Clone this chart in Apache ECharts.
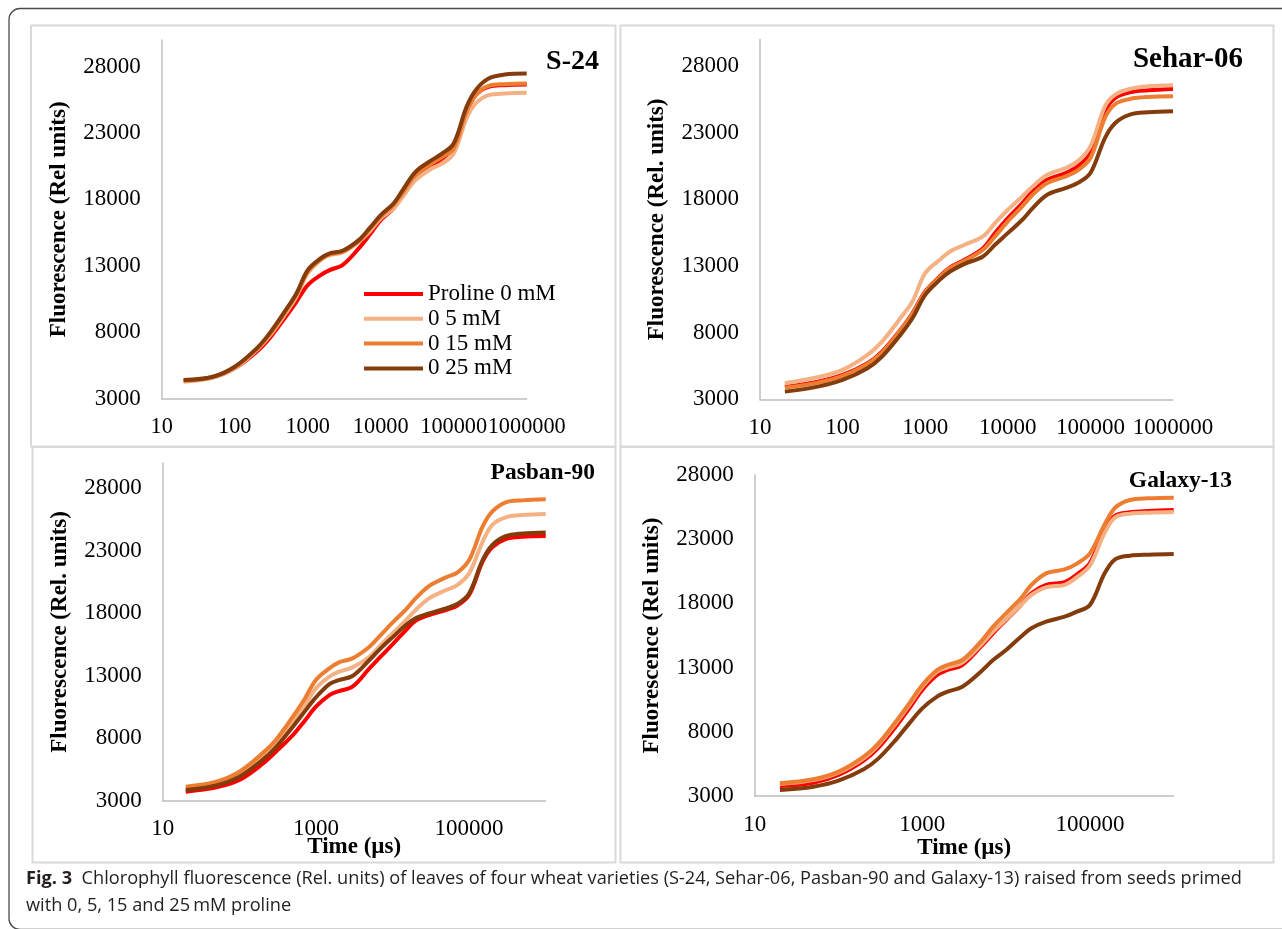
<!DOCTYPE html>
<html><head><meta charset="utf-8">
<script src="https://cdn.jsdelivr.net/npm/echarts@6/dist/echarts.min.js"></script>
<style>html,body{margin:0;padding:0;background:#fff}#c{width:1282px;height:929px}</style>
</head><body><div id="c"></div>
<script>
// ---- data ----
const times = [20,50,100,200,300,500,700,1000,1500,2000,3000,5000,7000,10000,15000,20000,30000,50000,70000,100000,150000,200000,300000,500000,1000000];
const seriesNames = ['Proline 0 mM','0 5 mM','0 15 mM','0 25 mM'];
const panelTitles = ['S-24','Sehar-06','Pasban-90','Galaxy-13'];
const yAxisTitles = ['Fluorescence (Rel units)','Fluorescence (Rel. units)','Fluorescence (Rel. units)','Fluorescence (Rel units)'];
const xAxisTitle = 'Time (µs)';
const yTickMin = 3000, yTickStep = 5000;
const yAxisMax = [30000, 30000, 30000, 28000];
const xTicksTop = [10,100,1000,10000,100000,1000000];
const xTicksBottom = [10,1000,100000];
const captionBold = 'Fig. 3';
const captionLine1 = 'Chlorophyll fluorescence (Rel. units) of leaves of four wheat varieties (S-24, Sehar-06, Pasban-90 and Galaxy-13) raised from seeds primed';
const captionLine2 = 'with 0, 5, 15 and 25\u2009mM proline';

const s24_0  = [4354,4605,5282,6536,7540,9170,10298,11552,12305,12681,13057,14311,15314,16443,17321,18324,19703,20581,21083,21960,24594,25848,26475,26601,26651];
const s24_5  = [4279,4580,5282,6662,7715,9420,10674,12430,13433,13809,14010,14813,15565,16568,17321,18198,19452,20330,20706,21460,24092,25221,25848,25973,26023];
const s24_15 = [4354,4630,5358,6737,7840,9596,10850,12555,13483,13860,14060,14863,15741,16694,17572,18499,19829,20707,21208,21835,24594,25848,26550,26676,26726];
const s24_25 = [4404,4655,5408,6787,7916,9671,10925,12681,13559,13935,14136,14938,15816,16819,17697,18700,20080,20958,21459,22211,24970,26224,27102,27403,27478];

const sehar_0  = [3952,4327,4828,5704,6581,8208,9460,11088,12215,12891,13467,14343,15470,16597,17724,18600,19476,19977,20478,21480,24610,25611,26037,26187,26287];
const sehar_5  = [4202,4653,5204,6330,7332,9085,10337,12465,13467,14093,14594,15220,16221,17223,18224,18976,19852,20353,20854,21980,24985,25862,26287,26488,26563];
const sehar_15 = [3876,4252,4753,5654,6506,8158,9410,11038,12165,12841,13392,14218,15220,16346,17473,18350,19226,19727,20177,21104,24109,25160,25536,25686,25736];
const sehar_25 = [3576,3952,4452,5329,6205,7833,9085,10838,11964,12590,13166,13717,14593,15470,16472,17348,18350,18851,19226,19977,22607,23733,24359,24534,24609];

const pasban_0  = [3720,4066,4652,5932,6918,8250,9316,10515,11448,11768,12114,13580,14513,15499,16645,17391,17844,18244,18590,19443,22108,23254,23920,24107,24160];
const pasban_5  = [4066,4439,5185,6571,7584,9396,10515,11981,12914,13314,13660,14513,15446,16378,17444,18244,19177,19843,20243,21175,23700,25040,25653,25839,25919];
const pasban_15 = [4119,4519,5319,6784,7850,9716,11048,12647,13580,14060,14380,15312,16245,17231,18297,19177,20163,20856,21229,22241,24906,26106,26852,27012,27092];
const pasban_25 = [3853,4226,4919,6251,7264,8916,10062,11262,12328,12647,12967,14246,15179,16059,17045,17578,17978,18377,18724,19576,22241,23441,24160,24373,24453];

const galaxy_0  = [3779,4038,4635,5752,6764,8529,9827,11255,12423,12813,13202,14630,15668,16707,17875,18784,19433,19650,20250,21150,23700,24832,25092,25196,25274];
const galaxy_5  = [3935,4246,4817,5933,6972,8789,10087,11515,12683,13021,13384,14760,15798,16759,17875,18654,19251,19450,20050,20950,23500,24703,24989,25066,25118];
const galaxy_15 = [3986,4298,4895,6063,7102,8919,10217,11645,12813,13202,13592,15019,16188,17226,18394,19433,20341,20650,21100,21900,24150,25450,26052,26182,26234];
const galaxy_25 = [3467,3727,4194,5077,5933,7491,8659,9827,10736,11125,11515,12683,13592,14370,15409,16058,16577,16967,17356,17875,20341,21432,21717,21795,21847];

const panels = [
  [s24_0, s24_5, s24_15, s24_25],
  [sehar_0, sehar_5, sehar_15, sehar_25],
  [pasban_0, pasban_5, pasban_15, pasban_25],
  [galaxy_0, galaxy_5, galaxy_15, galaxy_25]
];

// ---- styles / layout ----
const colors = ['#FF0000', '#F4B183', '#ED7D31', '#843C0C'];
const SERIF = '"Liberation Serif", "Times New Roman", serif';
const SANS = '"Open Sans", "Noto Sans", sans-serif';
const gridBoxes = [
  {left:161.7, top:40,   width:365, height:358.7},
  {left:760,   top:39.5, width:413, height:359.8},
  {left:162.7, top:463,  width:383, height:337.7},
  {left:754.7, top:475,  width:419, height:321}
];
const xTickSets = [xTicksTop, xTicksTop, xTicksBottom, xTicksBottom];
const xNameGaps = [0, 0, 34.5, 41];
const xLabelSizes = [22.3, 23, 23, 23];

const chart = echarts.init(document.getElementById('c'), null, {renderer:'canvas'});

const grid = gridBoxes.map(g => Object.assign({containLabel:false}, g));
const axisLineStyle = {show:true, lineStyle:{color:'#BFBFBF', width:1.5}};

const xAxis = gridBoxes.map((g, p) => {
  const ticks = xTickSets[p];
  const decadesPerTick = Math.round(Math.log10(ticks[1] / ticks[0]));
  return {
    type:'log', logBase:10, gridIndex:p,
    min:ticks[0], max:1000000, interval:decadesPerTick,
    axisLine:axisLineStyle, axisTick:{show:false}, splitLine:{show:false}, minorTick:{show:false},
    axisLabel:{
      margin:17, color:'#000', fontFamily:SERIF, fontSize:xLabelSizes[p],
      showMaxLabel: ticks[ticks.length-1] === 1000000,
      hideOverlap:false,
      formatter: v => String(Math.round(v))
    },
    name: p >= 2 ? xAxisTitle : '',
    nameLocation:'middle', nameGap:xNameGaps[p], nameMoveOverlap:false,
    nameTextStyle:{color:'#000', fontFamily:SERIF, fontSize:23, fontWeight:'bold'}
  };
});

const yAxis = gridBoxes.map((g, p) => ({
  type:'value', gridIndex:p,
  min:yTickMin, max:yAxisMax[p], interval:yTickStep,
  axisLine:axisLineStyle, axisTick:{show:false}, splitLine:{show:false},
  axisLabel:{
    margin:21, color:'#000', fontFamily:SERIF, fontSize:23,
    showMaxLabel: (yAxisMax[p] - yTickMin) % yTickStep === 0,
    formatter: v => String(Math.round(v))
  },
  name:yAxisTitles[p], nameLocation:'middle', nameGap:91, nameRotate:90, nameMoveOverlap:false,
  nameTextStyle:{color:'#000', fontFamily:SERIF, fontSize:23, fontWeight:'bold'}
}));

const series = [];
panels.forEach((arrs, p) => {
  arrs.forEach((vals, s) => {
    series.push({
      type:'line', name:seriesNames[s], xAxisIndex:p, yAxisIndex:p,
      data: times.map((t, i) => [t, vals[i]]),
      symbol:'none', showSymbol:false, smooth:0.35,
      lineStyle:{color:colors[s], width:4},
      itemStyle:{color:colors[s]},
      emphasis:{disabled:true}, silent:true, z:2 + s
    });
  });
});

const titlePos = [
  {x:599, y:62, size:28},
  {x:1243, y:60, size:29},
  {x:595, y:473, size:23.5},
  {x:1232, y:481, size:23.5}
];

const elements = [
  {type:'rect', silent:true, z:-10, shape:{x:9, y:8.5, width:1300, height:921, r:11},
   style:{fill:'none', stroke:'#4a4a4a', lineWidth:1.3}},
  {type:'rect', silent:true, z:-9, shape:{x:31, y:25.5, width:584.5, height:421}, style:{fill:'none', stroke:'#D9D9D9', lineWidth:2}},
  {type:'rect', silent:true, z:-9, shape:{x:620.5, y:25.5, width:653, height:421}, style:{fill:'none', stroke:'#D9D9D9', lineWidth:2}},
  {type:'rect', silent:true, z:-9, shape:{x:32.5, y:447, width:583, height:415.5}, style:{fill:'none', stroke:'#D9D9D9', lineWidth:2}},
  {type:'rect', silent:true, z:-9, shape:{x:620.5, y:447, width:653, height:415.5}, style:{fill:'none', stroke:'#D9D9D9', lineWidth:2}}
];
panelTitles.forEach((t, p) => {
  elements.push({type:'text', silent:true, z:10, x:titlePos[p].x, y:titlePos[p].y,
    style:{text:t, fill:'#000', font:'bold ' + titlePos[p].size + 'px ' + SERIF, textAlign:'right', textVerticalAlign:'middle'}});
});
elements.push({type:'text', silent:true, z:10, x:26, y:879,
  style:{text:'{b|' + captionBold + '}  ' + captionLine1, fill:'#231f20', font:'18.2px ' + SANS,
    textVerticalAlign:'middle',
    rich:{b:{fontWeight:'bold', fontFamily:SANS, fontSize:18.2, fill:'#231f20'}}}});
elements.push({type:'text', silent:true, z:10, x:26, y:906,
  style:{text:captionLine2, fill:'#231f20', font:'18.2px ' + SANS, textVerticalAlign:'middle'}});

chart.setOption({
  animation:false,
  backgroundColor:'#fff',
  grid, xAxis, yAxis, series,
  legend:{
    show:true, orient:'vertical', left:364, top:282.5, padding:0,
    data:seriesNames, icon:'rect', itemWidth:59, itemHeight:4, itemGap:1.8,
    selectedMode:false,
    textStyle:{color:'#000', fontFamily:SERIF, fontSize:23}
  },
  graphic:{elements}
});
</script></body></html>
